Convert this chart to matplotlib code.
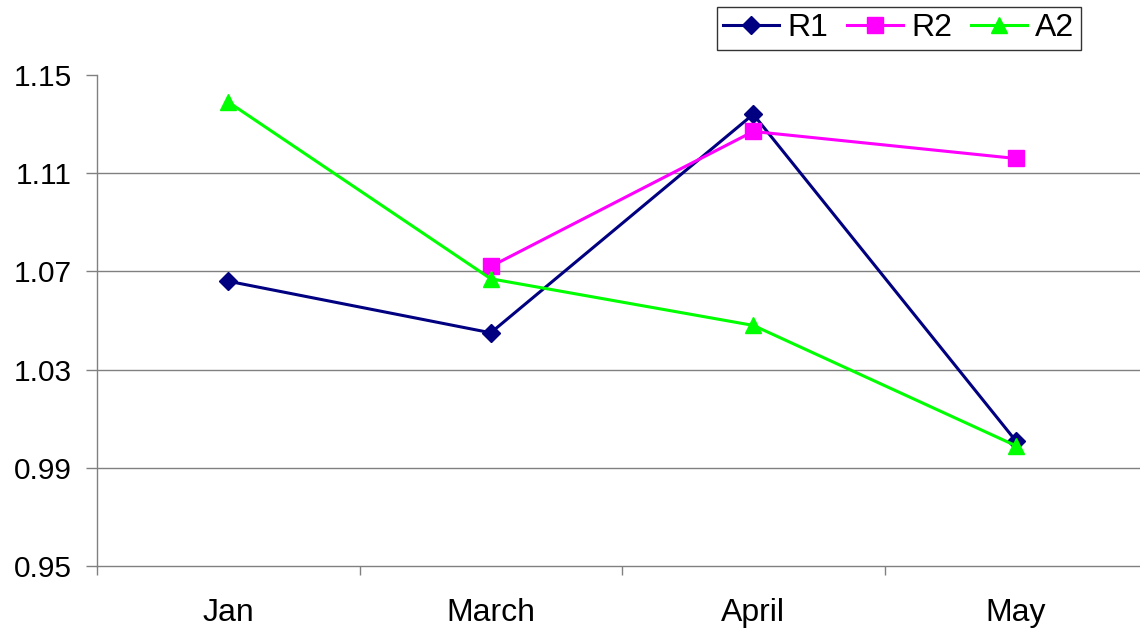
import numpy as np
import matplotlib
matplotlib.use("Agg")
import matplotlib.pyplot as plt
from matplotlib.ticker import FixedLocator, NullFormatter

plt.rcParams['font.family'] = ['Liberation Sans', 'DejaVu Sans']

months = ["Jan", "March", "April", "May"]
r1 = [1.066, 1.045, 1.134, 1.001]
r2 = [np.nan, 1.072, 1.127, 1.116]
a2 = [1.139, 1.067, 1.048, 0.999]
y_ticks = [0.95, 0.99, 1.03, 1.07, 1.11, 1.15]

fig = plt.figure(figsize=(11.4, 6.32), dpi=100)
ax = fig.add_axes([97 / 1140, 66 / 632, 1050 / 1140, 491 / 632])

x = np.arange(len(months)) + 0.5
lw = 2.2
ax.plot(x, r1, color="#000080", lw=lw, marker="D", ms=9.5, label="R1", zorder=3)
ax.plot(x, r2, color="#FF00FF", lw=lw, marker="s", ms=11.5, label="R2", zorder=3)
ax.plot(x, a2, color="#00FF00", lw=lw, marker="^", ms=12, label="A2", zorder=3)

ax.set_xlim(0, len(months))
ax.set_ylim(0.95, 1.15)
ax.set_yticks(y_ticks)
ax.set_yticklabels([f"{v:.2f}" for v in y_ticks])

# gridlines on the inner ticks only
for v in y_ticks[1:-1]:
    ax.axhline(v, color="#808080", lw=1, zorder=1)

ax.xaxis.set_major_locator(FixedLocator(np.arange(len(months) + 1)))
ax.xaxis.set_major_formatter(NullFormatter())
ax.set_xticks(x, minor=True)
ax.set_xticklabels(months, minor=True)

for s in ["top", "right"]:
    ax.spines[s].set_visible(False)
for s in ["left", "bottom"]:
    ax.spines[s].set_color("#808080")
    ax.spines[s].set_linewidth(1)

ax.tick_params(axis="y", which="major", length=8, width=1, color="#808080",
               labelsize=21.5, pad=10)
ax.tick_params(axis="x", which="major", length=6.5, width=1, color="#808080")
ax.tick_params(axis="x", which="minor", length=0, labelsize=23, pad=23)

leg = ax.legend(loc="upper left", bbox_to_anchor=(717 / 1140, 1 - 7 / 632),
                bbox_transform=fig.transFigure, ncol=3, fontsize=23,
                frameon=True, fancybox=False, handlelength=1.75,
                handletextpad=0.25, columnspacing=0.6, borderpad=0.2,
                borderaxespad=0)
leg.get_frame().set_edgecolor("black")
leg.get_frame().set_linewidth(1)

fig.savefig("out.png", dpi=100)
